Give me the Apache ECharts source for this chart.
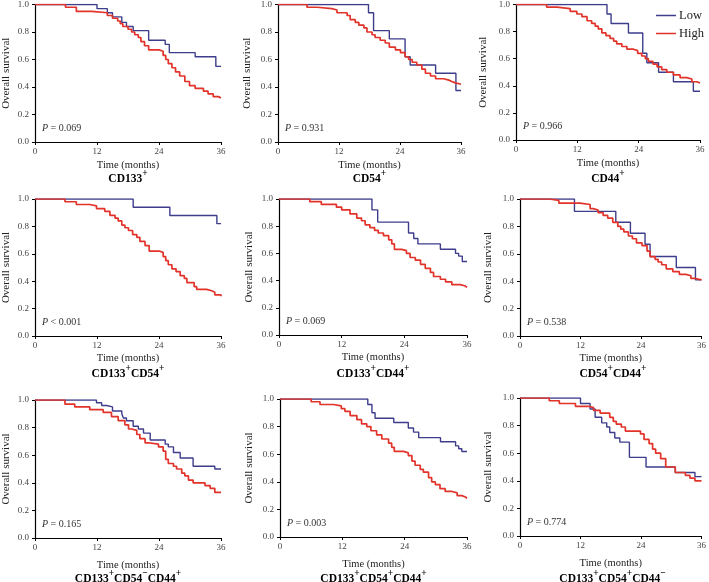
<!DOCTYPE html>
<html>
<head>
<meta charset="utf-8">
<title>Overall survival by marker expression</title>
<script src="https://cdn.jsdelivr.net/npm/echarts@6/dist/echarts.min.js"></script>
<style>
  html, body { margin: 0; padding: 0; background: #fff; }
  #chart { width: 709px; height: 582px; }
</style>
</head>
<body>
<div id="chart"></div>
<script>
// survival curves: [month, survival]
var p1Low = [[0,1],[12,0.97],[14,0.94],[15,0.91],[16.8,0.87],[17.7,0.84],[19,0.81],[22,0.74],[25.2,0.71],[26,0.65],[31,0.62],[35,0.55],[36,0.55]];
var p1High = [[0,1],[5.9,0.98],[8,0.95],[11,0.94],[14,0.92],[15,0.9],[16,0.88],[16.5,0.86],[17,0.84],[18,0.82],[18.7,0.8],[19.3,0.78],[20,0.76],[20.5,0.73],[21.2,0.7],[22,0.67],[24,0.66],[24.8,0.63],[25.3,0.6],[25.8,0.57],[26.5,0.54],[27.2,0.51],[28,0.48],[29,0.44],[29.9,0.41],[31,0.39],[32.6,0.37],[33.5,0.35],[34.5,0.33],[35.5,0.32],[36,0.32]];
var p2Low = [[0,1],[17.8,0.94],[18.8,0.81],[21.9,0.75],[25,0.62],[26,0.56],[31,0.5],[35,0.375],[36,0.375]];
var p2High = [[0,1],[5.7,0.98],[7.7,0.97],[10.6,0.96],[11.6,0.94],[13.6,0.92],[14.2,0.89],[15.2,0.87],[15.9,0.85],[16.9,0.83],[17.5,0.8],[18.5,0.78],[19.1,0.76],[20.1,0.74],[21.1,0.72],[21.9,0.69],[23.1,0.67],[24.1,0.65],[25,0.62],[25.7,0.6],[26.4,0.58],[27.3,0.56],[28.3,0.53],[29,0.5],[30,0.48],[31,0.46],[32.6,0.45],[33.6,0.44],[34.2,0.43],[34.9,0.42],[36,0.42]];
var p3Low = [[0,1],[17.8,0.93],[18.6,0.86],[22,0.79],[24.8,0.64],[25.6,0.57],[27.9,0.5],[30.8,0.43],[34.7,0.36],[36,0.36]];
var p3High = [[0,1],[6,0.98],[8,0.97],[10.6,0.95],[11.9,0.93],[12.9,0.91],[13.9,0.88],[14.8,0.86],[15.5,0.84],[16.1,0.82],[16.8,0.79],[17.6,0.77],[18.4,0.75],[19.1,0.73],[19.7,0.71],[20.7,0.69],[21.7,0.67],[23,0.66],[23.8,0.64],[24.6,0.62],[25.3,0.6],[25.9,0.58],[26.8,0.56],[27.6,0.54],[28.5,0.52],[29.5,0.5],[30.8,0.48],[32.1,0.46],[33.4,0.45],[34.4,0.43],[35.4,0.42],[36,0.42]];
var p4Low = [[0,1],[19,0.94],[26.1,0.88],[35.2,0.82],[36,0.82]];
var p4High = [[0,1],[5.8,0.98],[8,0.96],[10.6,0.95],[11.9,0.93],[13.5,0.91],[14.5,0.88],[15.5,0.86],[16.1,0.84],[16.8,0.81],[17.4,0.79],[18.1,0.77],[18.9,0.74],[19.7,0.72],[20.3,0.69],[21.3,0.66],[22.1,0.62],[24,0.61],[24.8,0.58],[25.3,0.55],[25.8,0.52],[26.5,0.49],[27.3,0.47],[28.1,0.44],[28.9,0.42],[29.4,0.39],[30.8,0.36],[31.3,0.34],[33.2,0.33],[34.2,0.32],[34.8,0.3],[36,0.29]];
var p5Low = [[0,1],[17.8,0.92],[18.9,0.83],[24.8,0.75],[25.8,0.71],[26.6,0.67],[30.9,0.63],[33.8,0.6],[34.4,0.58],[35.1,0.54],[36,0.54]];
var p5High = [[0,1],[5.9,0.98],[8.1,0.96],[11,0.94],[12,0.92],[13.6,0.89],[14.9,0.86],[15.8,0.84],[16.5,0.81],[17.4,0.79],[18.3,0.77],[19,0.75],[20,0.73],[21,0.7],[21.6,0.67],[22.1,0.63],[23.5,0.62],[24.4,0.6],[25.1,0.57],[26.1,0.55],[27.1,0.52],[28,0.49],[29,0.46],[29.6,0.43],[30.9,0.41],[31.9,0.39],[33.1,0.37],[34.7,0.36],[35.7,0.35],[36,0.35]];
var p6Low = [[0,1],[10.8,0.91],[19,0.83],[21.9,0.75],[24.8,0.67],[25.8,0.58],[31,0.5],[34.8,0.41],[36,0.41]];
var p6High = [[0,1],[5.8,0.99],[7.7,0.97],[11.9,0.96],[13.9,0.93],[14.5,0.92],[15.5,0.9],[16.5,0.88],[17.4,0.86],[18.4,0.83],[19.4,0.8],[20,0.78],[20.6,0.76],[21.5,0.73],[22.3,0.71],[23.1,0.68],[24.2,0.66],[25.2,0.62],[25.8,0.58],[26.8,0.56],[27.4,0.54],[28.1,0.52],[29,0.49],[30.3,0.47],[31.6,0.45],[32.9,0.44],[33.9,0.42],[34.8,0.41],[36,0.41]];
var p7Low = [[0,1],[11.9,0.98],[12.9,0.96],[13.9,0.95],[15,0.92],[16.8,0.9],[17.1,0.87],[17.7,0.85],[19,0.81],[20,0.79],[21,0.76],[22.3,0.71],[25.2,0.68],[25.8,0.66],[26.8,0.62],[28.1,0.58],[30.6,0.52],[34.8,0.5],[36,0.5]];
var p7High = [[0,1],[5.8,0.97],[7.7,0.95],[10.6,0.93],[13.2,0.91],[14.8,0.88],[16.1,0.85],[17.4,0.82],[18.1,0.79],[18.7,0.78],[19.7,0.75],[20.3,0.72],[21.3,0.69],[21.9,0.68],[23.9,0.66],[24.8,0.63],[25.3,0.57],[25.8,0.54],[26.8,0.52],[27.4,0.5],[28.4,0.47],[29,0.45],[29.7,0.42],[30.6,0.4],[32.9,0.38],[33.9,0.36],[34.8,0.33],[36,0.33]];
var p8Low = [[0,1],[16.9,0.96],[17.7,0.9],[18.3,0.86],[21.9,0.83],[24.7,0.79],[25.7,0.76],[26.7,0.72],[30.9,0.69],[33.8,0.66],[34.4,0.64],[35,0.62],[36,0.62]];
var p8High = [[0,1],[6,0.98],[7.7,0.96],[10.3,0.95],[11.8,0.93],[12.5,0.91],[13.5,0.88],[14.8,0.85],[15.7,0.82],[16.7,0.8],[17.5,0.77],[18.6,0.74],[19.6,0.71],[20.9,0.68],[21.5,0.65],[22,0.62],[23.8,0.61],[24.7,0.59],[25.4,0.55],[26,0.52],[27,0.49],[27.6,0.47],[28.6,0.43],[29.2,0.4],[29.9,0.38],[30.8,0.35],[31.8,0.33],[33.1,0.32],[34.1,0.3],[35,0.29],[35.7,0.28],[36,0.28]];
var p9Low = [[0,1],[12,0.96],[13.9,0.92],[14.9,0.86],[16.2,0.82],[17.2,0.79],[17.8,0.75],[18.8,0.71],[19.8,0.68],[21.7,0.57],[25,0.5],[30.8,0.46],[34.7,0.43],[36,0.43]];
var p9High = [[0,1],[5.8,0.98],[7.8,0.96],[11,0.94],[13.6,0.93],[14.6,0.91],[15.9,0.89],[17.8,0.86],[18.5,0.83],[19.1,0.81],[20.1,0.79],[20.9,0.76],[23.9,0.74],[24.6,0.7],[25.6,0.67],[26.3,0.63],[26.9,0.6],[27.9,0.56],[28.9,0.5],[30.8,0.46],[32.8,0.44],[33.7,0.42],[34.7,0.4],[36,0.4]];

var lowCurves = [p1Low, p2Low, p3Low, p4Low, p5Low, p6Low, p7Low, p8Low, p9Low];
var highCurves = [p1High, p2High, p3High, p4High, p5High, p6High, p7High, p8High, p9High];
var pLabels = ['= 0.069', '= 0.931', '= 0.966', '< 0.001', '= 0.069', '= 0.538', '= 0.165', '= 0.003', '= 0.774'];
// marker name + sign for each panel title
var panelMarkers = [
  [['CD133','+']],
  [['CD54','+']],
  [['CD44','+']],
  [['CD133','+'],['CD54','+']],
  [['CD133','+'],['CD44','+']],
  [['CD54','+'],['CD44','+']],
  [['CD133','+'],['CD54','\u2212'],['CD44','+']],
  [['CD133','+'],['CD54','+'],['CD44','+']],
  [['CD133','+'],['CD54','+'],['CD44','\u2212']]
];
var xTicks = [0, 12, 24, 36];
var yTicks = [0, 0.2, 0.4, 0.6, 0.8, 1.0];
var groupNames = ['Low', 'High'];

// plot boxes [left, top, width, height, yNameGap, xNameGap]
var boxes = [
  [35, 4, 186, 138, 23, 18], [278, 4, 183, 138, 25, 18], [516, 4, 184, 136, 27, 18],
  [35, 199, 186, 137, 23, 17], [279, 199, 188, 136, 24, 17], [520, 199, 186, 137, 26, 17],
  [35, 400, 186, 138, 23, 22], [280, 399, 187, 138, 25, 22], [520, 398, 185, 138, 26, 22]
];
var titleY = [177, 177, 177, 372, 372, 372, 577, 577, 577];

var serif = 'Liberation Serif';
var blue = '#3d3d8c';
var red = '#e2332a';

var grid = [], xAxis = [], yAxis = [], series = [], titles = [];
for (var i = 0; i < 9; i++) {
  var b = boxes[i];
  grid.push({left: b[0], top: b[1], width: b[2], height: b[3], containLabel: false});
  xAxis.push({
    gridIndex: i, type: 'value', min: xTicks[0], max: xTicks[xTicks.length - 1], interval: 12,
    name: 'Time (months)', nameLocation: 'middle', nameGap: b[5],
    nameTextStyle: {fontFamily: serif, fontSize: 10.5, color: '#222'},
    axisLine: {lineStyle: {color: '#000', width: 1.2}},
    axisTick: {inside: false, length: 3, lineStyle: {color: '#000'}},
    axisLabel: {fontFamily: serif, fontSize: 9, color: '#444', margin: 5},
    splitLine: {show: false}
  });
  yAxis.push({
    gridIndex: i, type: 'value', min: yTicks[0], max: yTicks[yTicks.length - 1], interval: 0.2,
    name: 'Overall survival', nameLocation: 'middle', nameGap: b[4],
    nameTextStyle: {fontFamily: serif, fontSize: 11, color: '#222'},
    axisLine: {show: true, lineStyle: {color: '#000', width: 1.2}},
    axisTick: {show: true, inside: false, length: 3, lineStyle: {color: '#000'}},
    axisLabel: {fontFamily: serif, fontSize: 9, color: '#444', margin: 6,
      formatter: function(v) { return v.toFixed(1); }},
    splitLine: {show: false}
  });
  series.push({
    name: groupNames[0], type: 'line', step: 'end', xAxisIndex: i, yAxisIndex: i,
    data: lowCurves[i], symbol: 'none', color: blue,
    lineStyle: {color: blue, width: 1.4}
  });
  series.push({
    name: groupNames[1], type: 'line', step: 'end', xAxisIndex: i, yAxisIndex: i,
    data: highCurves[i], symbol: 'none', color: red,
    lineStyle: {color: red, width: 1.7}
  });

  var txt = '';
  panelMarkers[i].forEach(function(m) { txt += '{b|' + m[0] + '}{s|' + m[1] + '}'; });
  titles.push({
    text: txt, left: b[0] + b[2] / 2, top: titleY[i], padding: 0,
    textAlign: 'center', textVerticalAlign: 'middle',
    textStyle: {
      fontWeight: 'bold',
      rich: {
        b: {fontFamily: serif, fontSize: 11.5, fontWeight: 'bold', color: '#000', lineHeight: 16, verticalAlign: 'bottom'},
        s: {fontFamily: serif, fontSize: 9.5, fontWeight: 'bold', color: '#000', lineHeight: 16, verticalAlign: 'top'}
      }
    }
  });
  titles.push({
    text: '{i|P} {n|' + pLabels[i] + '}', left: b[0] + 7, top: b[1] + b[3] - 14, padding: 0,
    textAlign: 'left', textVerticalAlign: 'middle',
    textStyle: {
      fontWeight: 'normal', fontSize: 10, fontFamily: serif, color: '#333',
      rich: {
        i: {fontFamily: serif, fontSize: 10, fontStyle: 'italic', fontWeight: 'normal', color: '#333'},
        n: {fontFamily: serif, fontSize: 10, fontWeight: 'normal', color: '#333'}
      }
    }
  });
}

var myChart = echarts.init(document.getElementById('chart'));
myChart.setOption({
  animation: false,
  backgroundColor: '#fff',
  title: titles,
  legend: {
    data: groupNames, orient: 'vertical', left: 656, top: 9, padding: 0,
    icon: 'rect', itemWidth: 20, itemHeight: 1.5, itemGap: 5,
    textStyle: {fontFamily: serif, fontSize: 12.5, color: '#222', padding: [0, 0, 0, -2]}
  },
  grid: grid,
  xAxis: xAxis,
  yAxis: yAxis,
  series: series
});
</script>
</body>
</html>
